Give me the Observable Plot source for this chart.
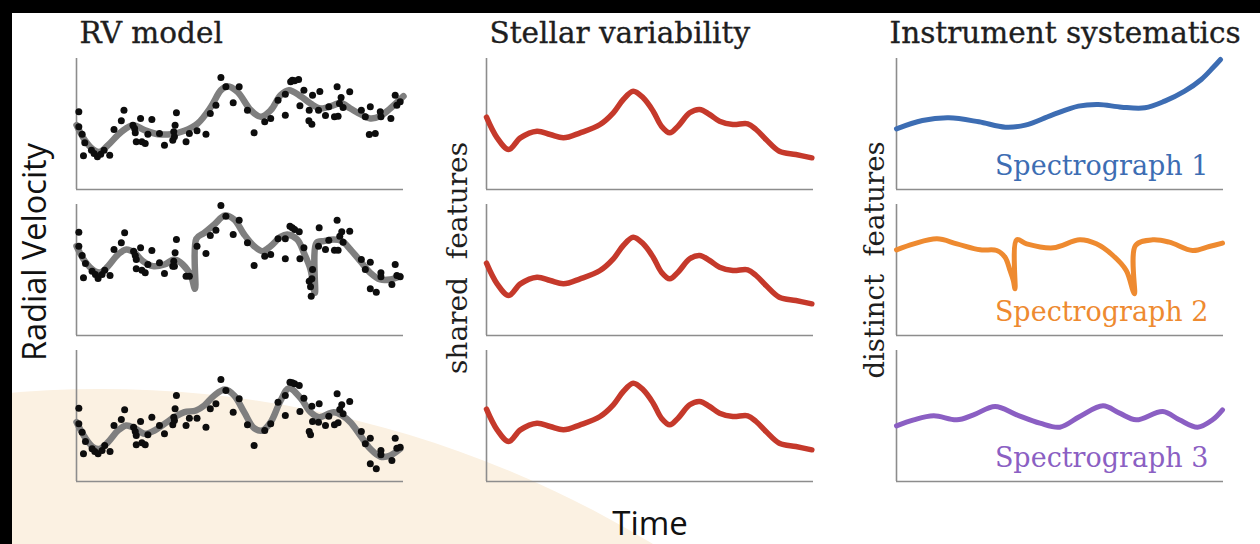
<!DOCTYPE html>
<html><head><meta charset="utf-8">
<script src="https://cdn.jsdelivr.net/npm/d3@7"></script>
<script src="https://cdn.jsdelivr.net/npm/@observablehq/plot@0.6"></script>
<style>
html,body{margin:0;padding:0;background:#fff;}
#wrap{position:relative;width:1260px;height:544px;overflow:hidden;background:#fff;}
#blob{position:absolute;left:-964px;top:389px;width:2128px;height:2128px;border-radius:50%;background:#fbf1e2;z-index:0;}
#topbar{position:absolute;left:0;top:0;width:1260px;height:13px;background:#000;z-index:3;}
#leftbar{position:absolute;left:0;top:0;width:12px;height:544px;background:#000;z-index:3;}
#chart{position:absolute;left:0;top:0;z-index:2;}
</style></head>
<body>
<div id="wrap"><div id="blob"></div><div id="chart"></div><div id="topbar"></div><div id="leftbar"></div></div>
<script>
// ---- data (time, value) ----
const columns = ["rv", "star", "inst"];
const rows = [1, 2, 3];
const titles = ["RV model", "Stellar variability", "Instrument systematics"];
const yLabels = ["Radial Velocity", "shared\u00a0 features", "distinct\u00a0 features"];
const xLabel = "Time";
const spectrographs = ["Spectrograph 1", "Spectrograph 2", "Spectrograph 3"];
const specColors = ["#3d6db3", "#ee8a30", "#8b5fc3"];

const rvCurve1 = [[0,193],[25,148],[50,120],[70,113],[95,133],[135,173],[170,193],[205,178],[245,166],[285,166],[325,176],[365,198],[405,248],[435,298],[455,310],[485,293],[525,238],[555,218],[585,238],[615,283],[640,298],[675,280],[705,258],[735,243],[775,253],[795,260],[825,243],[855,226],[885,213],[915,220],[945,243],[985,280]];
const rvCurve2 = [[0,268],[25,223],[55,193],[75,190],[95,208],[125,243],[150,258],[175,248],[200,223],[230,208],[265,213],[295,228],[320,213],[345,178],[357,140],[361,290],[385,308],[415,333],[447,360],[475,348],[505,303],[535,268],[560,253],[585,268],[615,296],[635,303],[665,288],[685,248],[705,198],[718,128],[723,278],[745,283],[775,288],[800,283],[825,258],[855,223],[885,188],[915,168],[945,168],[975,178]];
const rvCurve3 = [[0,178],[25,133],[50,103],[70,98],[95,118],[125,153],[150,168],[175,160],[205,143],[235,153],[265,173],[295,193],[325,208],[360,213],[385,228],[415,258],[447,276],[475,258],[505,208],[535,160],[560,153],[585,178],[615,243],[640,280],[675,250],[705,208],[730,193],[775,208],[800,198],[825,178],[855,138],[885,98],[915,75],[945,78],[975,98]];

const rvDots1 = [[7,233],[7,188],[17,166],[25,140],[21,101],[45,118],[53,108],[63,98],[73,106],[83,118],[100,103],[113,180],[135,206],[143,238],[170,193],[175,183],[177,170],[193,213],[180,143],[197,143],[207,138],[215,166],[227,210],[250,168],[265,133],[290,148],[297,193],[301,230],[293,173],[295,158],[330,143],[340,168],[363,176],[390,166],[403,228],[420,253],[435,336],[450,308],[472,260],[490,308],[515,238],[535,170],[567,203],[585,213],[607,268],[629,286],[629,223],[645,323],[650,328],[657,326],[669,330],[673,251],[685,298],[701,238],[700,206],[709,196],[711,283],[733,294],[729,238],[750,222],[760,248],[777,218],[785,308],[788,220],[792,258],[797,276],[803,246],[823,293],[858,238],[870,218],[885,248],[882,165],[900,168],[915,233],[917,218],[947,213],[960,283],[965,253],[975,263]];
const rvDots2 = [[7,310],[7,268],[17,240],[27,216],[21,173],[47,193],[57,183],[65,171],[77,183],[85,196],[101,180],[113,258],[135,278],[145,308],[172,253],[177,240],[180,228],[193,263],[180,200],[197,196],[207,188],[215,213],[227,255],[250,218],[265,186],[290,208],[297,248],[301,288],[293,223],[295,208],[330,178],[340,178],[363,268],[390,246],[403,300],[420,316],[435,390],[450,358],[472,303],[490,346],[515,278],[535,210],[567,238],[585,243],[607,290],[629,290],[629,230],[643,328],[650,323],[657,318],[671,311],[673,230],[685,263],[701,163],[705,146],[707,118],[711,198],[709,170],[731,323],[729,268],[750,258],[760,286],[777,256],[785,346],[788,256],[793,298],[799,311],[803,280],[823,313],[858,228],[870,198],[885,220],[885,140],[903,130],[917,188],[917,176],[950,153],[960,213],[965,180],[975,176]];
const rvDots3 = [[7,220],[7,173],[17,148],[27,120],[21,83],[47,98],[55,90],[65,83],[77,93],[85,108],[101,90],[113,168],[135,186],[145,215],[172,163],[177,150],[180,138],[193,180],[180,110],[197,116],[207,110],[215,140],[227,193],[250,168],[265,143],[290,170],[297,218],[301,258],[293,193],[295,183],[330,168],[340,190],[363,190],[390,163],[403,218],[420,233],[435,306],[450,273],[472,208],[490,248],[515,170],[535,108],[567,153],[585,173],[607,238],[629,258],[629,198],[643,298],[650,296],[657,293],[671,288],[673,210],[685,250],[701,150],[705,140],[711,180],[709,226],[731,233],[729,178],[750,168],[760,196],[777,170],[785,263],[788,176],[793,216],[799,230],[803,203],[823,240],[858,150],[870,113],[885,130],[885,53],[903,38],[917,93],[917,80],[950,63],[960,130],[965,100],[975,103]];

const stellarCurve = [[0,217],[32,155],[67,120],[102,155],[152,175],[192,165],[232,155],[282,170],[342,195],[382,230],[412,270],[442,295],[472,275],[502,235],[527,190],[552,170],[577,190],[612,230],[642,240],[672,225],[702,205],[742,195],[787,197],[812,180],[842,150],[882,115],[932,105],[980,95]];

const spec1 = [[0,182],[78,207],[158,215],[248,203],[328,187],[388,193],[468,223],[548,250],[608,255],[678,247],[748,245],[808,265],[868,295],[918,330],[953,365],[976,390]];
const spec2 = [[0,257],[52,275],[122,290],[182,275],[252,257],[302,255],[327,235],[342,195],[352,165],[357,140],[362,287],[392,275],[472,263],[552,287],[602,275],[652,240],[692,195],[712,135],[717,125],[720,270],[772,287],[822,280],[892,255],[942,267],[982,277]];
const spec3 = [[0,167],[52,185],[112,197],[182,185],[232,200],[297,225],[362,200],[432,175],[492,163],[552,195],[622,227],[672,205],[722,185],[802,210],[852,185],[907,163],[952,185],[982,215]];

// ---- build tables ----
const tab = (pairs, col, row, extra = {}) => pairs.map(([t, v]) => ({t, v, col, row, ...extra}));
const rvLines = [...tab(rvCurve1, "rv", 1), ...tab(rvCurve2, "rv", 2), ...tab(rvCurve3, "rv", 3)];
const rvPoints = [...tab(rvDots1, "rv", 1), ...tab(rvDots2, "rv", 2), ...tab(rvDots3, "rv", 3)];
const starLines = rows.flatMap(r => tab(stellarCurve, "star", r));
const instLines = [spec1, spec2, spec3].flatMap((s, i) => tab(s, "inst", rows[i], {name: spectrographs[i]}));
const instLabels = spectrographs.map((name, i) => ({col: "inst", row: rows[i], name}));
const titleRows = titles.map((label, i) => ({col: columns[i], row: 1, label}));

const serif = "DejaVu Serif";
const sans = "Open Sans";
const titleOpts = {fx: "col", fy: "row", text: "label", frameAnchor: "top-left", textAnchor: "start", lineAnchor: "bottom", dy: -16, fontSize: 29.5, fontFamily: serif, fill: "#1e1e1e", stroke: "#1e1e1e", strokeWidth: 0.35};

const chart = Plot.plot({
  width: 1260, height: 544,
  marginLeft: 75, marginRight: 37, marginTop: 57, marginBottom: 63,
  style: {background: "transparent", overflow: "visible"},
  x: {axis: null, domain: [0, 985]},
  y: {axis: null, domain: [0, 393]},
  fx: {axis: null, domain: columns, paddingInner: 0.2034, paddingOuter: 0},
  fy: {axis: null, domain: rows, paddingInner: 0.1058, paddingOuter: 0},
  color: {domain: spectrographs, range: specColors},
  marks: [
    Plot.ruleX([0], {stroke: "#8d8d8d", strokeWidth: 1.6}),
    Plot.ruleY([0], {stroke: "#8d8d8d", strokeWidth: 1.6}),
    Plot.line(rvLines, {x: "t", y: "v", fx: "col", fy: "row", stroke: "#7f7f7f", strokeWidth: 6.5, curve: "catmull-rom"}),
    Plot.dot(rvPoints, {x: "t", y: "v", fx: "col", fy: "row", r: 3.5, fill: "#0d0d0d", stroke: null}),
    Plot.line(starLines, {x: "t", y: "v", fx: "col", fy: "row", stroke: "#c5392b", strokeWidth: 5.5, curve: "catmull-rom"}),
    Plot.line(instLines, {x: "t", y: "v", fx: "col", fy: "row", stroke: "name", strokeWidth: 5, curve: "catmull-rom"}),
    Plot.text(instLabels, {fx: "col", fy: "row", text: "name", fill: "name", frameAnchor: "bottom-right", textAnchor: "end", lineAnchor: "bottom", dx: -15, dy: -15, fontSize: 27, fontFamily: serif}),
    Plot.text(titleRows.slice(0, 1), {...titleOpts, dx: 3}),
    Plot.text(titleRows.slice(1, 2), {...titleOpts, dx: 3}),
    Plot.text(titleRows.slice(2, 3), {...titleOpts, dx: -7}),
    Plot.text([{col: "rv", row: 2, label: yLabels[0]}], {fx: "col", fy: "row", text: "label", frameAnchor: "left", rotate: -90, textAnchor: "middle", lineAnchor: "bottom", dx: -31, dy: -18, fontSize: 32.5, fontFamily: sans, fill: "#111"}),
    Plot.text([{col: "star", row: 2, label: yLabels[1]}], {fx: "col", fy: "row", text: "label", frameAnchor: "left", rotate: -90, textAnchor: "middle", lineAnchor: "bottom", dx: -20, dy: -12, fontSize: 28, fontFamily: serif, fill: "#1e1e1e"}),
    Plot.text([{col: "inst", row: 2, label: yLabels[2]}], {fx: "col", fy: "row", text: "label", frameAnchor: "left", rotate: -90, textAnchor: "middle", lineAnchor: "bottom", dx: -13, dy: -10, fontSize: 27.5, fontFamily: serif, fill: "#1e1e1e"}),
    Plot.text([{col: "star", row: 3, label: xLabel}], {fx: "col", fy: "row", text: "label", frameAnchor: "bottom", textAnchor: "middle", lineAnchor: "bottom", dy: 53, fontSize: 33, fontFamily: sans, fill: "#111"})
  ]
});
document.getElementById("chart").appendChild(chart);
</script>
</body></html>
